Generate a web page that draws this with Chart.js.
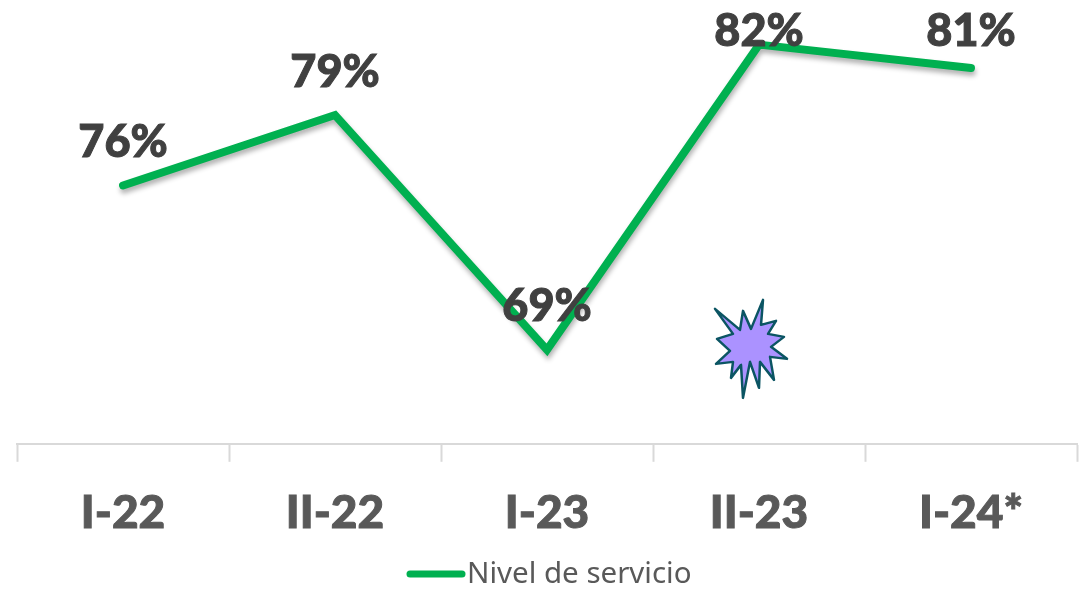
<!DOCTYPE html>
<html>
<head>
<meta charset="utf-8">
<style>
html, body { margin: 0; padding: 0; background: #fff; }
#wrap { width: 1089px; height: 592px; }
</style>
<script src="https://cdn.jsdelivr.net/npm/chart.js@4"></script>
</head>
<body>
<div id="wrap"><canvas id="chart" width="1089" height="592"></canvas></div>
<script>
const categories = ["I-22", "II-22", "I-23", "II-23", "I-24*"];
const serviceLevel = [76, 79, 69, 82, 81];
const seriesName = "Nivel de servicio";
const burstCategory = "II-23";
const burstValue = 69;
// contorno de la estrella, en pixeles respecto a su centro
const burstShape = [
    [13, -47], [11, -22], [26, -26], [18, -13], [34, -10], [21, 0], [37, 12], [20, 10],
    [24, 33], [10, 15], [9, 41], [0, 15], [-7, 51], [-9, 18], [-19, 31], [-17, 15],
    [-34, 17], [-20, 4], [-33, -8], [-17, -13], [-35, -38], [-10, -17], [-7, -36], [1, -18]
];

const fontName = "Lato";

// sombra suave de la linea
const lineShadow = {
    id: "lineShadow",
    beforeDatasetsDraw(chart) {
        const ctx = chart.ctx;
        ctx.save();
        ctx.shadowColor = "rgba(0,0,0,0.3)";
        ctx.shadowBlur = 5;
        ctx.shadowOffsetX = 1;
        ctx.shadowOffsetY = 4;
    },
    afterDatasetsDraw(chart) {
        chart.ctx.restore();
    }
};

// etiquetas de datos
const dataLabels = {
    id: "dataLabels",
    afterDatasetsDraw(chart) {
        const ctx = chart.ctx;
        const meta = chart.getDatasetMeta(0);
        ctx.save();
        ctx.font = "900 45px " + fontName;
        ctx.fillStyle = "#404040";
        ctx.strokeStyle = "#404040";
        ctx.lineWidth = 1;
        ctx.textAlign = "center";
        ctx.textBaseline = "middle";
        meta.data.forEach((pt, i) => {
            const txt = serviceLevel[i] + "%";
            const ty = Math.max(31, pt.y - 43);
            ctx.fillText(txt, pt.x, ty);
            ctx.strokeText(txt, pt.x, ty);
        });
        ctx.restore();
    }
};

// estrella morada y leyenda
const extras = {
    id: "extras",
    afterDatasetsDraw(chart) {
        const ctx = chart.ctx;
        const x = chart.scales.x;
        const y = chart.scales.y;
        const cx = x.getPixelForValue(categories.indexOf(burstCategory)) - 9;
        const cy = y.getPixelForValue(burstValue) - 3;
        ctx.save();
        ctx.beginPath();
        burstShape.forEach((p, i) => {
            if (i === 0) ctx.moveTo(cx + p[0], cy + p[1]);
            else ctx.lineTo(cx + p[0], cy + p[1]);
        });
        ctx.closePath();
        ctx.fillStyle = "#ab92ff";
        ctx.strokeStyle = "#0b5563";
        ctx.lineWidth = 2.5;
        ctx.lineJoin = "round";
        ctx.fill();
        ctx.stroke();

        ctx.strokeStyle = "#00b050";
        ctx.lineWidth = 7;
        ctx.lineCap = "round";
        ctx.beginPath();
        ctx.moveTo(410, 574);
        ctx.lineTo(462, 574);
        ctx.stroke();
        ctx.font = "400 29.5px 'Noto Sans'";
        ctx.fillStyle = "#595959";
        ctx.textAlign = "left";
        ctx.textBaseline = "middle";
        ctx.fillText(seriesName, 467, 575);
        ctx.restore();
    }
};

new Chart(document.getElementById("chart"), {
    type: "line",
    data: {
        labels: categories,
        datasets: [{
            label: seriesName,
            data: serviceLevel,
            borderColor: "#00b050",
            backgroundColor: "#00b050",
            borderWidth: 8,
            borderCapStyle: "round",
            borderJoinStyle: "miter",
            pointRadius: 0,
            tension: 0,
            fill: false
        }]
    },
    options: {
        responsive: false,
        animation: false,
        layout: { padding: { left: 17, right: 12, top: 0, bottom: 27 } },
        plugins: {
            tooltip: { enabled: false },
            legend: { display: false }
        },
        scales: {
            y: { display: false, min: 65, max: 83.9 },
            x: {
                offset: true,
                grid: {
                    offset: true,
                    drawOnChartArea: false,
                    tickLength: 18,
                    tickWidth: 2,
                    tickColor: "#d9d9d9"
                },
                border: { color: "#d9d9d9", width: 2 },
                ticks: {
                    color: "#595959",
                    padding: 24,
                    maxRotation: 0,
                    textStrokeColor: "#595959",
                    textStrokeWidth: 1,
                    font: { family: fontName, size: 46, weight: "900" }
                }
            }
        }
    },
    plugins: [lineShadow, dataLabels, extras]
});
</script>
</body>
</html>
